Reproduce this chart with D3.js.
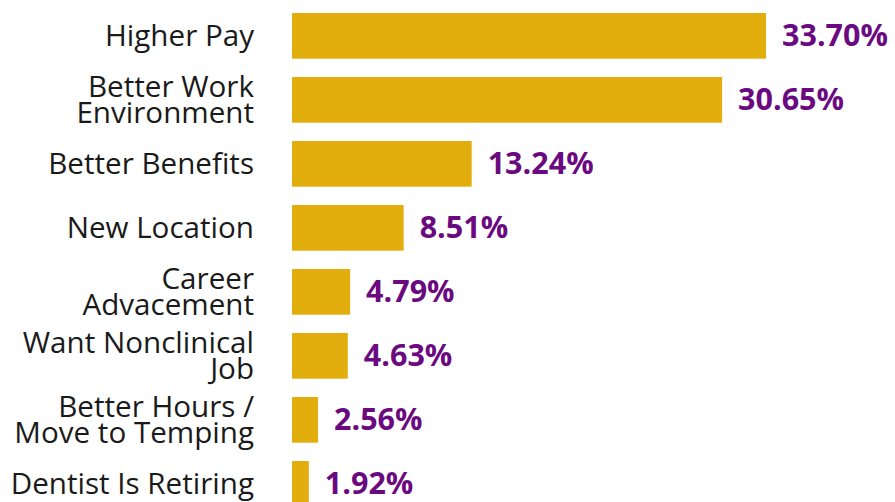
<!doctype html>
<html lang="en">
  <head>
    <meta charset="utf-8">
    <title>Reasons for Leaving</title>
    <script src="https://cdn.jsdelivr.net/npm/d3@7"></script>
    <style>
      body { margin: 0; background: #fff; }
      .cat { font-family: "Open Sans", sans-serif; font-size: 29.6px; fill: #1a1a1a; }
      .val { font-family: "Open Sans", sans-serif; font-size: 30.5px; font-weight: 700; fill: #6b0a80; }
    </style>
  </head>
  <body>
    <script>

      var categories = [
        ["Higher Pay"],
        ["Better Work", "Environment"],
        ["Better Benefits"],
        ["New Location"],
        ["Career", "Advacement"],
        ["Want Nonclinical", "Job"],
        ["Better Hours /", "Move to Temping"],
        ["Dentist Is Retiring"]
      ];
      var values = [33.70, 30.65, 13.24, 8.51, 4.79, 4.63, 2.56, 1.92];

      var width = 895, height = 502;

      var svg = d3.select("body").append("svg")
          .attr("width", width)
          .attr("height", height);

      var rows = categories.map(function(c, i){ return {lines: c, value: values[i], key: c.join(" ")}; });

      var x0 = 0.75;
      var x = d3.scaleLinear().domain([x0, 33.70]).range([292, 766]);
      var y = d3.scaleBand()
          .domain(rows.map(function(d){ return d.key; }))
          .range([13, 506.7])
          .paddingInner(0.286)
          .paddingOuter(0);

      var row = svg.selectAll("g.row").data(rows).enter()
        .append("g")
          .attr("class", "row")
          .attr("transform", function(d){ return "translate(0," + y(d.key) + ")"; });

      row.append("rect")
          .attr("x", x(x0))
          .attr("y", 0)
          .attr("width", function(d){ return x(d.value) - x(x0); })
          .attr("height", y.bandwidth())
          .attr("fill", "#e2ae0e");

      var mid = y.bandwidth() / 2;

      row.append("text")
          .attr("class", "val")
          .attr("x", function(d){ return x(d.value) + 16; })
          .attr("y", mid + 10)
          .text(function(d){ return d.value.toFixed(2) + "%"; });

      var lineH = 26.7;
      row.append("text")
          .attr("class", "cat")
          .attr("text-anchor", "end")
          .attr("x", 254)
          .selectAll("tspan")
          .data(function(d){
            var n = d.lines.length;
            return d.lines.map(function(l, i){ return {t: l, dy: (i - (n - 1) / 2) * lineH}; });
          })
          .enter().append("tspan")
            .attr("x", 254)
            .attr("y", function(l){ return mid + 10 + l.dy; })
            .text(function(l){ return l.t; });

    </script>
  </body>
</html>
